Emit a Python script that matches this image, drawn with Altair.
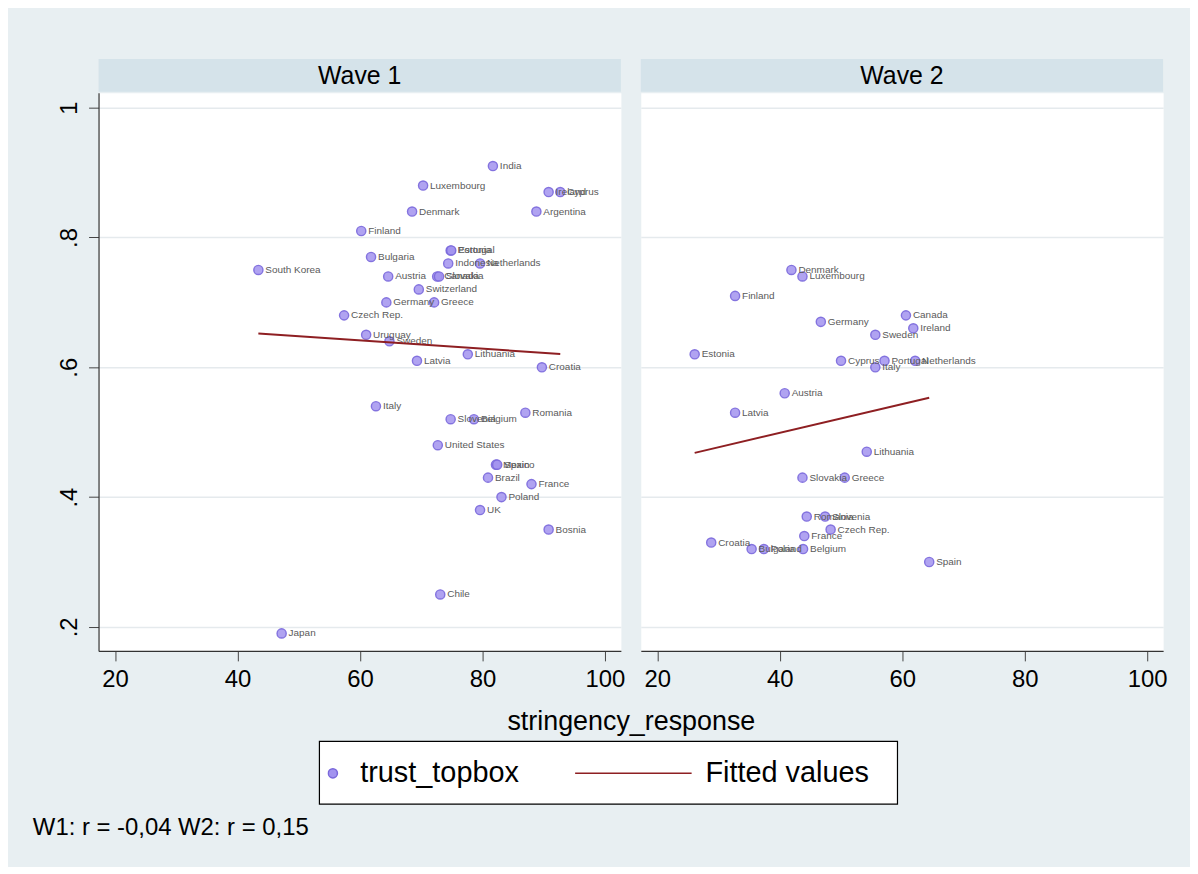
import altair as alt
import pandas as pd

# ---------------- data ----------------
w1_country = ["India", "Luxembourg", "Ireland", "Cyprus", "Denmark", "Argentina",
              "Finland", "Portugal", "Estonia", "Bulgaria", "Indonesia", "Netherlands",
              "South Korea", "Austria", "Canada", "Slovakia", "Switzerland", "Germany",
              "Greece", "Czech Rep.", "Uruguay", "Sweden", "Latvia", "Lithuania",
              "Croatia", "Italy", "Slovenia", "Belgium", "Romania", "United States",
              "Mexico", "Spain", "Brazil", "France", "Poland", "UK", "Bosnia", "Chile",
              "Japan"]
w1_stringency = [81.7, 70.3, 90.8, 92.7, 68.5, 88.8,
                 60.2, 74.8, 74.9, 61.8, 74.4, 79.6,
                 43.4, 64.6, 72.6, 72.9, 69.6, 64.3,
                 72.1, 57.4, 61.0, 64.8, 69.3, 77.6,
                 89.7, 62.6, 74.8, 78.6, 87.0, 72.7,
                 82.2, 82.4, 80.9, 88.0, 83.1, 79.6, 90.8, 73.1,
                 47.2]
w1_trust = [0.91, 0.88, 0.87, 0.87, 0.84, 0.84,
            0.81, 0.78, 0.78, 0.77, 0.76, 0.76,
            0.75, 0.74, 0.74, 0.74, 0.72, 0.70,
            0.70, 0.68, 0.65, 0.64, 0.61, 0.62,
            0.60, 0.54, 0.52, 0.52, 0.53, 0.48,
            0.45, 0.45, 0.43, 0.42, 0.40, 0.38, 0.35, 0.25,
            0.19]

w2_country = ["Denmark", "Luxembourg", "Finland", "Canada", "Germany", "Ireland",
              "Sweden", "Estonia", "Cyprus", "Portugal", "Italy", "Netherlands",
              "Austria", "Latvia", "Lithuania", "Slovakia", "Greece", "Romania",
              "Slovenia", "Czech Rep.", "France", "Croatia", "Bulgaria", "Poland",
              "Belgium", "Spain"]
w2_stringency = [41.9, 43.7, 32.7, 60.6, 46.7, 61.8,
                 55.6, 26.1, 50.0, 57.1, 55.6, 62.1,
                 40.8, 32.7, 54.2, 43.7, 50.6, 44.4,
                 47.4, 48.3, 44.0, 28.8, 35.4, 37.4,
                 43.8, 64.4]
w2_trust = [0.75, 0.74, 0.71, 0.68, 0.67, 0.66,
            0.65, 0.62, 0.61, 0.61, 0.60, 0.61,
            0.56, 0.53, 0.47, 0.43, 0.43, 0.37,
            0.37, 0.35, 0.34, 0.33, 0.32, 0.32,
            0.32, 0.30]

waves = ["Wave 1", "Wave 2"]
series_names = ["trust_topbox", "Fitted values"]
y_ticks = [0.2, 0.4, 0.6, 0.8, 1.0]
x_ticks = [20, 40, 60, 80, 100]
x_title = "stringency_response"
note_text = "W1: r = -0,04 W2: r = 0,15"

df = pd.concat([
    pd.DataFrame({"wave": waves[0], "country": w1_country,
                  "stringency": w1_stringency, "trust": w1_trust}),
    pd.DataFrame({"wave": waves[1], "country": w2_country,
                  "stringency": w2_stringency, "trust": w2_trust}),
], ignore_index=True)
df["series"] = series_names[0]

# ---------------- styling ----------------
FONT = "Liberation Sans, Arial, Helvetica, sans-serif"
W, H = 525, 561
XDOM = [17.3, 102.6]
YDOM = [0.163, 1.023]
BG = "#e8eff2"
STRIP = "#d5e3ea"
GRID = "#e5eaed"

color_scale = alt.Scale(domain=series_names, range=["#7a68db", "#8e1f22"])
size_scale = alt.Scale(type="ordinal", domain=series_names, range=[85, 15670])
shape_scale = alt.Scale(domain=series_names, range=["circle", "stroke"])

legend = alt.Legend(
    title=None, orient="none", legendX=222, legendY=652,
    direction="horizontal",
    padding=8, clipHeight=48, labelFontSize=29, labelFont=FONT, labelColor="black",
    labelLimit=400, labelOffset=13, symbolOffset=-9, columnPadding=56,
    symbolStrokeWidth=1.5,
)


def panel(i):
    wave = waves[i]
    first = i == 0
    base = alt.Chart(df).transform_filter(alt.datum.wave == wave)

    x_axis = alt.Axis(
        values=x_ticks, grid=False, tickSize=10, tickColor="#444",
        domainColor="#333", domainWidth=1.2, labelFontSize=24, labelFont=FONT,
        labelColor="black", labelPadding=7,
        title=x_title if first else None,
        titleFontSize=27, titleFont=FONT, titleFontWeight="normal",
        titleColor="black", titleX=W + 10, titleY=58, titleAlign="center",
    )
    if first:
        y_axis = alt.Axis(
            values=y_ticks, grid=True, gridColor=GRID, gridWidth=1.5,
            tickSize=10, tickColor="#444", domainColor="#333", domainWidth=1.2,
            labelAngle=270, labelFontSize=24, labelFont=FONT, labelColor="black",
            labelPadding=7, title=None,
            labelExpr="datum.value == 1 ? '1' : replace(format(datum.value, '.1f'), '0.', '.')",
        )
    else:
        y_axis = alt.Axis(values=y_ticks, grid=True, gridColor=GRID, gridWidth=1.5,
                          labels=False, ticks=False, domain=False, title=None)

    x = alt.X("stringency:Q", scale=alt.Scale(domain=XDOM, nice=False, zero=False), axis=x_axis)
    y = alt.Y("trust:Q", scale=alt.Scale(domain=YDOM, nice=False, zero=False), axis=y_axis)

    points = base.mark_point(filled=False, fill="#a293ef", fillOpacity=0.85,
                             strokeOpacity=0.9, strokeWidth=1.4).encode(
        x=x, y=y,
        color=alt.Color("series:N", scale=color_scale, legend=legend),
        size=alt.Size("series:N", scale=size_scale, legend=legend),
        shape=alt.Shape("series:N", scale=shape_scale, legend=legend),
    )
    labels = base.mark_text(align="left", baseline="middle", dx=7, fontSize=10,
                            font=FONT, color="#5a5a5a").encode(x=x, y=y, text="country:N")
    fit = (base.transform_regression("stringency", "trust")
           .transform_calculate(series="'Fitted values'")
           .mark_line(strokeWidth=2)
           .encode(x=x, y=y,
                   color=alt.Color("series:N", scale=color_scale, legend=legend)))

    strip_data = alt.Data(values=[{"wave": wave}])
    strip = alt.Chart(strip_data).mark_rect(fill=STRIP).encode(
        x=alt.value(0), x2=alt.value(W), y=alt.value(-34), y2=alt.value(-1))
    strip_text = alt.Chart(strip_data).mark_text(
        fontSize=25, font=FONT, color="black", baseline="middle").encode(
        x=alt.value(W / 2), y=alt.value(-17), text="wave:N")

    layers = [strip, strip_text]
    if first:
        note_data = alt.Data(values=[{"note": note_text}])
        legend_box = alt.Chart(note_data).mark_rect(
            fill="white", stroke="black", strokeWidth=1.2).encode(
            x=alt.value(222), x2=alt.value(803), y=alt.value(652), y2=alt.value(715))
        note = alt.Chart(note_data).mark_text(
            align="left", baseline="middle", fontSize=24, font=FONT, color="black").encode(
            x=alt.value(-66), y=alt.value(739), text="note:N")
        layers += [legend_box, note]
    layers += [points, labels, fit]
    return alt.layer(*layers).properties(width=W, height=H)


chart = (
    alt.hconcat(panel(0), panel(1), spacing=20, bounds="flush")
    .configure(background=BG, padding={"left": 24, "top": 48, "right": 22, "bottom": 24})
    .configure_view(fill="white", stroke="transparent")
)

chart.save("out.html", embed_options={"renderer": "svg", "actions": False})
